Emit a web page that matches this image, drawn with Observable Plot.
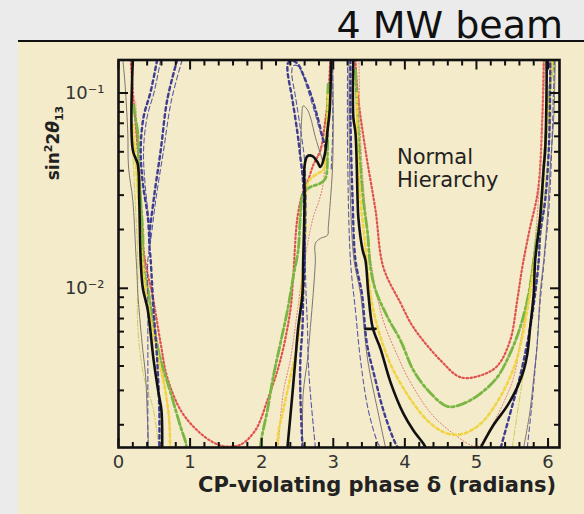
<!DOCTYPE html>
<html><head><meta charset="utf-8">
<script src="https://cdn.jsdelivr.net/npm/d3@7"></script>
<script src="https://cdn.jsdelivr.net/npm/@observablehq/plot@0.6"></script>
<style>
body{margin:0;width:584px;height:514px;background:#ebebeb;position:relative;overflow:hidden;font-family:"DejaVu Sans",sans-serif;}
#title{position:absolute;right:21px;top:6px;font-size:38px;line-height:38px;color:#111;white-space:nowrap;}
#rule{position:absolute;left:18px;top:40px;width:566px;height:2px;background:#111;}
#panel{position:absolute;left:18px;top:42px;width:566px;height:472px;background:#f4ebca;}
#chart{position:absolute;left:18px;top:42px;}
#chart svg text{font-size:18px;fill:#333;}
#ylab{position:absolute;left:54px;top:143px;transform:translate(-50%,-50%) rotate(-90deg);font-weight:bold;font-size:17px;color:#222;white-space:nowrap;}
#ylab sup,#ylab sub{font-size:11px;}
#xlab{position:absolute;right:28px;top:475px;font-weight:bold;font-size:21px;line-height:21px;color:#222;white-space:nowrap;}
#note{position:absolute;left:397px;top:146px;font-size:21px;line-height:23px;color:#222;}
</style>
</head><body>
<div id="title">4 MW beam</div>
<div id="rule"></div>
<div id="panel"></div>
<div id="chart"></div>
<div id="ylab">sin<sup>2</sup>2<i>θ</i><sub>13</sub></div>
<div id="xlab">CP-violating phase δ (radians)</div>
<div id="note">Normal<br>Hierarchy</div>
<script>
// x: CP phase delta (radians), y: sin^2 2theta13 ; each series = list of contour segments [[delta, s], ...]
const xMajor = [0, 1, 2, 3, 4, 5, 6];
const xMinor = [0.2,0.4,0.6,0.8,1.2,1.4,1.6,1.8,2.2,2.4,2.6,2.8,3.2,3.4,3.6,3.8,4.2,4.4,4.6,4.8,5.2,5.4,5.6,5.8,6.0];
const yMajor = [0.01, 0.1];
const yTickLabels = ["10⁻²", "10⁻¹"];
const yMinor = [0.002,0.003,0.004,0.005,0.006,0.007,0.008,0.009,0.02,0.03,0.04,0.05,0.06,0.07,0.08,0.09];

const black = [
 [[0.20,0.148],[0.20,0.051],[0.27,0.043],[0.29,0.0282],[0.31,0.0139],[0.34,0.010],[0.41,0.0077],[0.49,0.0043],[0.56,0.0029],[0.60,0.00237],[0.61,0.00153]],
 [[2.36,0.00153],[2.43,0.0029],[2.47,0.00427],[2.51,0.0063],[2.57,0.0094],[2.58,0.0139],[2.60,0.0282],[2.60,0.0427],[2.64,0.0475],[2.71,0.0475],[2.78,0.0442],[2.82,0.0418],[2.88,0.0482],[2.92,0.0646],[2.95,0.0818],[2.97,0.148]],
 [[3.28,0.148],[3.28,0.0753],[3.31,0.0624],[3.34,0.0282],[3.35,0.0231],[3.41,0.0157],[3.45,0.0139],[3.49,0.0094],[3.55,0.0063],[3.66,0.0049],[3.80,0.0033],[3.98,0.00228],[4.12,0.00187],[4.26,0.0016],[4.29,0.00153]],
 [[5.06,0.00153],[5.24,0.0020],[5.43,0.0025],[5.57,0.00311],[5.66,0.0038],[5.71,0.0046],[5.75,0.0063],[5.80,0.0094],[5.82,0.0139],[5.89,0.0231],[5.94,0.0418],[5.96,0.051],[5.98,0.1125],[5.98,0.148]],
 [[3.45,0.0062],[3.59,0.0062]]
];
const gray = [
 [[0.06,0.148],[0.08,0.125],[0.10,0.10],[0.13,0.0624],[0.14,0.0418],[0.20,0.0282],[0.24,0.0157],[0.26,0.0115],[0.27,0.0094],[0.33,0.0052],[0.38,0.0035],[0.40,0.00237],[0.42,0.00153]],
 [[2.57,0.00153],[2.58,0.0029],[2.64,0.0043],[2.68,0.0063],[2.72,0.0094],[2.75,0.0139],[2.75,0.017],[2.82,0.018],[2.92,0.0187],[2.93,0.0205],[2.96,0.0282],[2.99,0.0418],[3.00,0.0753],[2.99,0.148]],
 [[2.54,0.047],[2.56,0.0753],[2.58,0.086],[2.63,0.083],[2.68,0.0753],[2.75,0.0594],[2.82,0.049],[2.86,0.0437]],
 [[3.22,0.148],[3.22,0.0753],[3.24,0.0282],[3.29,0.0139],[3.38,0.0094],[3.48,0.0043],[3.62,0.00237],[3.73,0.00153]],
 [[5.66,0.00153],[5.75,0.00237],[5.80,0.0035],[5.85,0.0052],[5.89,0.0094],[5.94,0.0139],[5.99,0.0231],[6.03,0.0418],[6.08,0.0753],[6.10,0.148]]
];
const blueThick = [
 [[0.82,0.148],[0.68,0.092],[0.59,0.051],[0.49,0.0282],[0.43,0.0176],[0.45,0.0139],[0.49,0.0077],[0.54,0.0043],[0.57,0.00237],[0.57,0.00153]],
 [[0.54,0.148],[0.45,0.102],[0.35,0.0753],[0.31,0.051],[0.34,0.0345],[0.41,0.0231],[0.43,0.0176]],
 [[2.57,0.00153],[2.54,0.0029],[2.54,0.0043],[2.57,0.0063],[2.58,0.0094],[2.60,0.0139],[2.58,0.0345],[2.54,0.047],[2.50,0.0624],[2.43,0.092],[2.36,0.131],[2.37,0.1426],[2.44,0.146],[2.51,0.14],[2.58,0.124],[2.68,0.1],[2.78,0.0753],[2.85,0.0594],[2.89,0.0528]],
 [[3.24,0.148],[3.24,0.0753],[3.27,0.0282],[3.31,0.0139],[3.40,0.0094],[3.47,0.0052],[3.58,0.0035],[3.70,0.00237],[3.85,0.00166],[3.90,0.00153]],
 [[5.34,0.00153],[5.47,0.00228],[5.57,0.00311],[5.66,0.00427],[5.75,0.0063],[5.82,0.0094],[5.87,0.0139],[5.89,0.019],[5.96,0.0282],[6.01,0.051],[6.03,0.1125],[6.03,0.148]]
];
const blueThin = [
 [[0.89,0.148],[0.74,0.092],[0.63,0.051],[0.52,0.0282],[0.45,0.0176],[0.41,0.0139],[0.41,0.0077],[0.41,0.0043],[0.41,0.00153]],
 [[0.59,0.148],[0.50,0.102],[0.40,0.0753],[0.35,0.051],[0.37,0.0345],[0.42,0.0231],[0.45,0.0176]],
 [[2.75,0.00153],[2.68,0.0029],[2.65,0.0043],[2.64,0.0063],[2.62,0.0094],[2.61,0.0139],[2.62,0.03],[2.60,0.045],[2.55,0.0624],[2.48,0.092],[2.42,0.128],[2.44,0.138],[2.50,0.138],[2.56,0.128],[2.64,0.105],[2.74,0.08],[2.82,0.063],[2.87,0.056]],
 [[3.20,0.148],[3.20,0.05],[3.24,0.0139],[3.31,0.0077],[3.38,0.0043],[3.49,0.00237],[3.62,0.00162],[3.66,0.00153]],
 [[5.71,0.00153],[5.78,0.00267],[5.84,0.0048],[5.89,0.0085],[5.96,0.0157],[6.02,0.0282],[6.06,0.064],[6.09,0.148]],
 [[2.99,0.148],[2.99,0.06],[2.97,0.04]]
];
const green = [
 [[0.21,0.0868],[0.24,0.073],[0.27,0.0624],[0.28,0.0418],[0.31,0.0282],[0.34,0.0191],[0.35,0.0128],[0.42,0.0094],[0.49,0.0063],[0.59,0.0043],[0.73,0.0029],[0.87,0.00194],[0.94,0.00162],[0.95,0.00153]],
 [[1.98,0.00153],[2.01,0.0018],[2.08,0.00237],[2.16,0.0035],[2.26,0.0052],[2.36,0.0077],[2.44,0.0114],[2.51,0.0157],[2.54,0.0231],[2.58,0.0307],[2.68,0.033],[2.82,0.0345],[2.89,0.0365],[2.92,0.051],[2.92,0.092],[2.93,0.1125]],
 [[3.31,0.131],[3.34,0.0753],[3.38,0.0418],[3.42,0.0282],[3.48,0.0191],[3.52,0.0128],[3.59,0.0098],[3.76,0.0071],[3.94,0.0054],[4.12,0.0038],[4.36,0.0029],[4.60,0.00248],[4.82,0.00257],[5.06,0.0029],[5.29,0.0035],[5.47,0.00464],[5.61,0.0063],[5.73,0.0094],[5.80,0.0139],[5.85,0.019],[5.89,0.0231],[5.94,0.0418],[5.99,0.0753],[6.03,0.1125],[6.08,0.148]]
];
const yellow = [
 [[0.20,0.069],[0.24,0.045],[0.28,0.0282],[0.32,0.0157],[0.38,0.0098],[0.47,0.0063],[0.56,0.0043],[0.66,0.0029],[0.71,0.0021],[0.72,0.00162],[0.72,0.00153]],
 [[2.22,0.00153],[2.23,0.0018],[2.30,0.00237],[2.40,0.0035],[2.50,0.0052],[2.54,0.0077],[2.57,0.0114],[2.61,0.0198],[2.64,0.0345],[2.71,0.0371],[2.79,0.0389],[2.86,0.0403],[2.89,0.051],[2.92,0.0753],[2.93,0.098]],
 [[3.33,0.10],[3.34,0.051],[3.38,0.0282],[3.44,0.0176],[3.49,0.0114],[3.56,0.0077],[3.69,0.0052],[3.84,0.0038],[4.12,0.00257],[4.36,0.00203],[4.60,0.0018],[4.82,0.0018],[5.06,0.00203],[5.24,0.00245],[5.43,0.00326],[5.57,0.00443],[5.71,0.0077],[5.78,0.0114],[5.85,0.0176],[5.91,0.0282],[5.96,0.051],[6.02,0.092],[6.06,0.148]]
];
const red = [
 [[0.17,0.148],[0.21,0.092],[0.27,0.051],[0.31,0.0282],[0.35,0.0157],[0.41,0.0117],[0.47,0.0094],[0.59,0.0052],[0.68,0.0035],[0.87,0.00237],[1.10,0.00187],[1.33,0.00162],[1.49,0.00155],[1.70,0.00158],[1.91,0.00187],[2.08,0.00267],[2.26,0.00427],[2.40,0.0077],[2.44,0.0114],[2.50,0.0231],[2.58,0.0314],[2.64,0.035],[2.72,0.0427],[2.82,0.051],[2.89,0.0727],[2.93,0.098],[2.96,0.148]],
 [[3.31,0.148],[3.34,0.1],[3.45,0.051],[3.59,0.0251],[3.70,0.0128],[3.94,0.0084],[4.12,0.0063],[4.50,0.00427],[4.78,0.0035],[5.06,0.00358],[5.29,0.004],[5.47,0.0054],[5.57,0.0087],[5.64,0.0128],[5.74,0.0198],[5.86,0.0318],[5.92,0.0753],[5.94,0.148]]
];
const pink = [
 [[0.24,0.09],[0.27,0.051],[0.31,0.025],[0.36,0.0139],[0.45,0.0085],[0.55,0.0052],[0.64,0.0033],[0.70,0.0022],[0.72,0.00153]],
 [[2.23,0.00153],[2.30,0.0029],[2.40,0.0043],[2.50,0.0077],[2.60,0.0139],[2.72,0.0231],[2.80,0.028],[2.86,0.0345],[2.89,0.051],[2.92,0.0753],[2.93,0.10]],
 [[3.36,0.148],[3.38,0.06],[3.45,0.025],[3.55,0.012],[3.70,0.0068],[3.90,0.0045],[4.04,0.0035],[4.36,0.0023],[4.68,0.0018],[5.01,0.00155],[5.20,0.00194],[5.38,0.0026],[5.52,0.0035],[5.61,0.0052],[5.71,0.0085],[5.80,0.015],[5.87,0.03],[5.92,0.07],[5.96,0.148]]
];
const lime = [
 [[0.17,0.09],[0.20,0.05],[0.24,0.025],[0.27,0.0139],[0.27,0.0063],[0.35,0.0036],[0.49,0.00237],[0.56,0.00153]],
 [[5.50,0.00153],[5.62,0.003],[5.75,0.006],[5.85,0.012],[5.95,0.03],[6.05,0.08],[6.10,0.148]]
];

function rows(name, segs) {
  return segs.flatMap((seg, i) => seg.map(([d, s]) => ({d, s, key: name + i})));
}
function curve(name, segs, style) {
  return Plot.line(rows(name, segs), {x: "d", y: "s", z: "key", clip: true, curve: "catmull-rom", strokeLinejoin: "round", ...style});
}
const tickStyle = {stroke: "#111", strokeWidth: 2, tickFormat: () => ""};

const chart = Plot.plot({
  width: 566, height: 472,
  marginLeft: 100, marginRight: 25, marginTop: 17.5, marginBottom: 67,
  style: {background: "transparent", fontFamily: "DejaVu Sans, sans-serif", color: "#2a2a2a"},
  x: {domain: [0, 6.16], label: null},
  y: {type: "log", domain: [0.00153, 0.1476], label: null},
  marks: [
    curve("red", red, {stroke: "#e0524e", strokeWidth: 2.2, strokeDasharray: "1.5,2.5"}),
    curve("pink", pink, {stroke: "#e27a78", strokeWidth: 1, strokeDasharray: "1.2,2"}),
    curve("lime", lime, {stroke: "#c8cf5a", strokeWidth: 1, strokeDasharray: "6,2,1.5,2"}),
    curve("green", green, {stroke: "#7ab642", strokeWidth: 2.8, strokeDasharray: "10,3,2.5,3"}),
    curve("yellow", yellow, {stroke: "#f0d444", strokeWidth: 2.6, strokeDasharray: "3,3"}),
    curve("gray", gray, {stroke: "#7d756f", strokeWidth: 1}),
    curve("blueThin", blueThin, {stroke: "#5b5aa6", strokeWidth: 1.1, strokeDasharray: "5,3"}),
    curve("blueThick", blueThick, {stroke: "#3f3d92", strokeWidth: 2.4, strokeDasharray: "3.5,3.5"}),
    curve("black", black, {stroke: "#111", strokeWidth: 2.6}),
    Plot.frame({stroke: "#111", strokeWidth: 2.6}),
    Plot.axisX({anchor: "bottom", ticks: xMajor, tickSize: -9, ...tickStyle}),
    Plot.axisX({anchor: "bottom", ticks: xMinor, tickSize: -5, ...tickStyle}),
    Plot.axisX({anchor: "top", ticks: xMajor, tickSize: -9, ...tickStyle}),
    Plot.axisX({anchor: "top", ticks: xMinor, tickSize: -5, ...tickStyle}),
    Plot.axisY({anchor: "left", ticks: yMajor, tickSize: -10, ...tickStyle}),
    Plot.axisY({anchor: "left", ticks: yMinor, tickSize: -6, ...tickStyle}),
    Plot.axisY({anchor: "right", ticks: yMajor, tickSize: -10, ...tickStyle}),
    Plot.axisY({anchor: "right", ticks: yMinor, tickSize: -6, ...tickStyle}),
    Plot.axisX({anchor: "bottom", ticks: xMajor, tickSize: 0, tickPadding: 8, tickFormat: d => String(d)}),
    Plot.axisY({anchor: "left", ticks: yMajor, tickSize: 0, tickPadding: 14, tickFormat: d => yTickLabels[yMajor.indexOf(d)]})
  ]
});
document.getElementById("chart").appendChild(chart);
</script>
</body></html>
